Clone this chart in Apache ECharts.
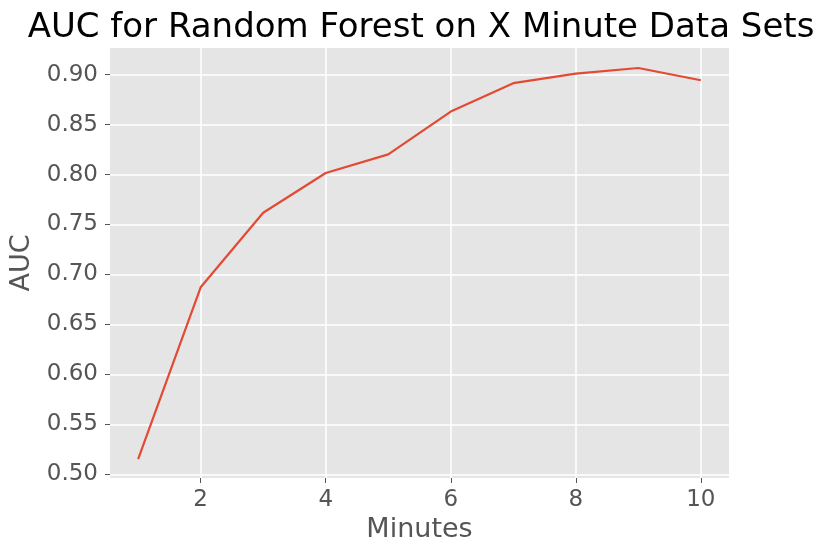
<!DOCTYPE html>
<html>
<head>
<meta charset="utf-8">
<script src="https://cdn.jsdelivr.net/npm/echarts@6/dist/echarts.min.js"></script>
<style>
html,body{margin:0;padding:0;background:#fff;}
#chart{width:830px;height:559px;}
</style>
</head>
<body>
<div id="chart"></div>
<script>
const minutes = [1, 2, 3, 4, 5, 6, 7, 8, 9, 10];
const auc = [0.5153, 0.6872, 0.7618, 0.8015, 0.8202, 0.8630, 0.8914, 0.9010, 0.9066, 0.8943];
const xTicks = [2, 4, 6, 8, 10];
const yTicks = [0.50, 0.55, 0.60, 0.65, 0.70, 0.75, 0.80, 0.85, 0.90];
const titleText = 'AUC for Random Forest on X Minute Data Sets';
const xName = 'Minutes';
const yName = 'AUC';

const font = 'DejaVu Sans';
const chart = echarts.init(document.getElementById('chart'), null, {renderer: 'canvas'});
chart.setOption({
  animation: false,
  backgroundColor: '#ffffff',
  title: {
    text: titleText,
    left: 416, textAlign: 'center',
    top: 6,
    textStyle: {fontFamily: font, fontSize: 34, fontWeight: 'normal', color: '#000'}
  },
  grid: {
    left: 110, right: 101, top: 48, bottom: 81,
    show: true, backgroundColor: '#E5E5E5', borderWidth: 0
  },
  xAxis: {
    type: 'value',
    min: 0.55, max: 10.45,
    name: xName, nameLocation: 'middle', nameGap: 38,
    nameTextStyle: {fontFamily: font, fontSize: 27, color: '#555555'},
    axisLine: {show: false},
    axisTick: {show: true, customValues: xTicks, length: 5, lineStyle: {color: '#555555', width: 1}},
    axisLabel: {customValues: xTicks, margin: 11, fontFamily: font, fontSize: 23, color: '#555555'},
    splitLine: {show: true, lineStyle: {color: '#ffffff', width: 1.5}}
  },
  yAxis: {
    type: 'value',
    min: 0.4964, max: 0.9266,
    name: yName, nameLocation: 'middle', nameGap: 71,
    nameTextStyle: {fontFamily: font, fontSize: 27, color: '#555555'},
    axisLine: {show: false},
    axisTick: {show: true, customValues: yTicks, length: 5, lineStyle: {color: '#555555', width: 1}},
    axisLabel: {customValues: yTicks, margin: 12, fontFamily: font, fontSize: 23, color: '#555555',
      formatter: v => v.toFixed(2)},
    splitLine: {show: true, lineStyle: {color: '#ffffff', width: 1.5}}
  },
  series: [{
    type: 'line',
    data: minutes.map((m, i) => [m, auc[i]]),
    showSymbol: false,
    symbol: 'none',
    lineStyle: {color: '#E24A33', width: 2.2},
    z: 5
  }]
});
</script>
</body>
</html>
